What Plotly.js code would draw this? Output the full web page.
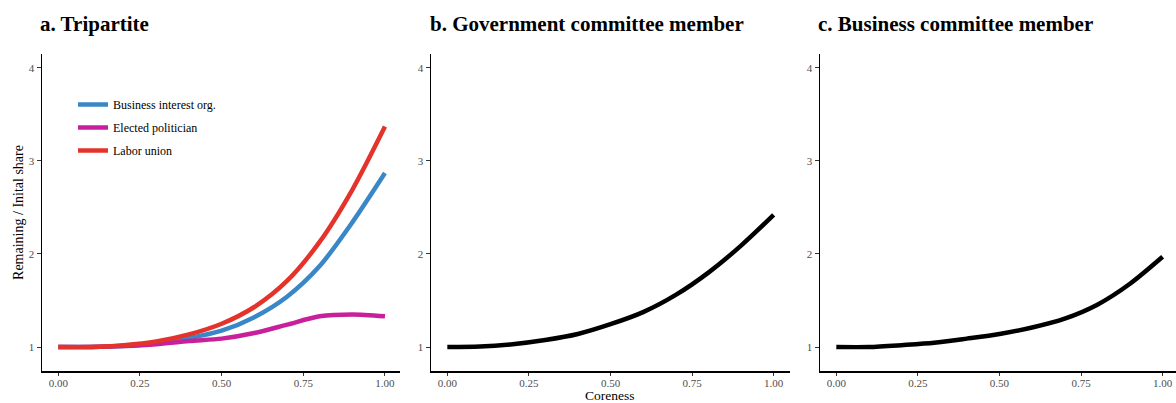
<!DOCTYPE html>
<html>
<head>
<meta charset="utf-8">
<script src="https://cdn.plot.ly/plotly-3.0.1.min.js"></script>
<style>html,body{margin:0;padding:0;background:#fff;}#chart{width:1176px;height:403px;}</style>
</head>
<body>
<div id="chart"></div>
<script>
// Coreness grid
const coreness = [0, 0.1, 0.2, 0.3, 0.4, 0.5, 0.6, 0.7, 0.8, 0.9, 1.0];

// Panel a: Tripartite
const businessInterest = [1.0, 1.0, 1.01, 1.04, 1.095, 1.175, 1.32, 1.54, 1.87, 2.34, 2.87];
const electedPolitician = [1.0, 1.0, 1.01, 1.03, 1.065, 1.09, 1.15, 1.24, 1.33, 1.35, 1.33];
const laborUnion = [1.0, 1.0, 1.02, 1.06, 1.135, 1.25, 1.43, 1.71, 2.13, 2.69, 3.37];

// Panel b: Government committee member
const govCommittee = [1.0, 1.005, 1.03, 1.075, 1.14, 1.245, 1.375, 1.56, 1.80, 2.09, 2.42];

// Panel c: Business committee member
const busCommittee = [1.0, 1.0, 1.02, 1.045, 1.09, 1.14, 1.21, 1.305, 1.455, 1.68, 1.97];

const seriesNames = ["Business interest org.", "Elected politician", "Labor union"];
const seriesColors = ["#3a87c8", "#c8209a", "#e3332a"];
const panelTitles = ["a. Tripartite", "b. Government committee member", "c. Business committee member"];
const xAxisTitle = "Coreness";
const yAxisTitle = "Remaining / Inital share";
const xTicks = [0, 0.25, 0.5, 0.75, 1.0];
const xTickText = ["0.00", "0.25", "0.50", "0.75", "1.00"];
const yTicks = [1, 2, 3, 4];

const FONT = "Liberation Serif, Times New Roman, serif";
const LINE = {width: 4.5, shape: "spline", smoothing: 0.8};

const traces = [];
[businessInterest, electedPolitician, laborUnion].forEach((ys, i) => {
  traces.push({
    x: coreness, y: ys, type: "scatter", mode: "lines",
    line: Object.assign({color: seriesColors[i]}, LINE),
    name: seriesNames[i], legendgroup: "g" + i, xaxis: "x", yaxis: "y", showlegend: true
  });
});
traces.push({x: coreness, y: govCommittee, type: "scatter", mode: "lines",
  line: Object.assign({color: "#000"}, LINE), xaxis: "x2", yaxis: "y2", showlegend: false});
traces.push({x: coreness, y: busCommittee, type: "scatter", mode: "lines",
  line: Object.assign({color: "#000"}, LINE), xaxis: "x3", yaxis: "y3", showlegend: false});

const W = 1176, H = 403;
const yDom = [(H - 371) / H, (H - 54) / H];
const xDoms = [[42 / W, 400 / W], [431 / W, 790 / W], [820 / W, 1]];
const xRanges = [[-0.05, 1.046], [-0.05, 1.05], [-0.05, 1.041]];

function xa(i) {
  return {
    domain: xDoms[i], range: xRanges[i], anchor: i === 0 ? "y" : "y" + (i + 1),
    tickvals: xTicks, ticktext: xTickText, showgrid: false, zeroline: false,
    showline: true, linecolor: "#000", linewidth: 1.5,
    ticks: "outside", ticklen: 3, tickcolor: "#333", tickwidth: 1,
    ticklabelstandoff: -2,
    tickfont: {family: FONT, size: 11, color: "#4d4d4d"}
  };
}
function ya(i, title) {
  const a = {
    domain: yDom, range: [0.742, 4.15], anchor: i === 0 ? "x" : "x" + (i + 1),
    tickvals: yTicks, showgrid: false, zeroline: false,
    showline: true, linecolor: "#000", linewidth: 1.5,
    ticks: "outside", ticklen: 4, tickcolor: "#333", tickwidth: 1,
    tickfont: {family: FONT, size: 11, color: "#4d4d4d"}
  };
  if (title) a.title = {text: title, font: {family: FONT, size: 14, color: "#000"}, standoff: 2};
  return a;
}

const annotations = panelTitles.map((t, i) => ({
  text: "<b>" + t + "</b>", xref: "paper", yref: "paper",
  x: [38, 428, 816][i] / W, y: (H - 24) / H, xanchor: "left", yanchor: "middle",
  showarrow: false, font: {family: FONT, size: 21, color: "#000"}
}));
annotations.push({
  text: xAxisTitle, xref: "paper", yref: "paper",
  x: 610 / W, y: 0, xanchor: "center", yanchor: "bottom", yshift: -2,
  showarrow: false, font: {family: FONT, size: 13.5, color: "#000"}
});

const layout = {
  width: W, height: H,
  margin: {l: 0, r: 0, t: 0, b: 0},
  paper_bgcolor: "#fff", plot_bgcolor: "#fff",
  font: {family: FONT},
  xaxis: xa(0), yaxis: ya(0, yAxisTitle),
  xaxis2: xa(1), yaxis2: ya(1),
  xaxis3: xa(2), yaxis3: ya(2),
  showlegend: true,
  legend: {x: 73 / W, y: (H - 90) / H, xanchor: "left", yanchor: "top",
    font: {family: FONT, size: 12, color: "#000"}, bgcolor: "rgba(0,0,0,0)",
    tracegroupgap: 4, itemwidth: 30},
  annotations: annotations
};

Plotly.newPlot("chart", traces, layout, {staticPlot: true, displayModeBar: false});
</script>
</body>
</html>
